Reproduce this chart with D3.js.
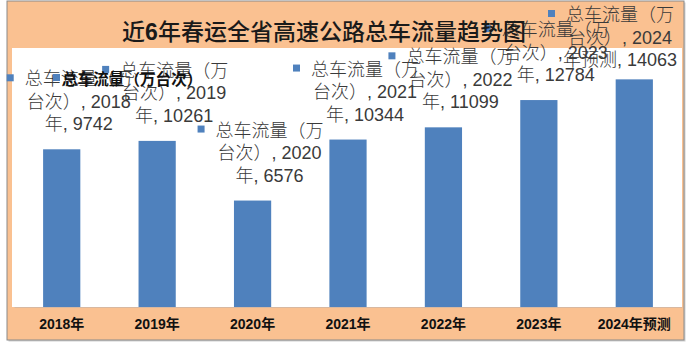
<!DOCTYPE html>
<html><head><meta charset="utf-8">
<script src="https://cdn.jsdelivr.net/npm/d3@7/dist/d3.min.js"></script>
<style>
html,body{margin:0;padding:0;background:#fff;}
svg{display:block;}
</style></head>
<body>
<svg id="chart" width="700" height="350"></svg>
<script>
const title = "近6年春运全省高速公路总车流量趋势图";
const seriesName = "总车流量（万台次）";
const categories = ["2018年","2019年","2020年","2021年","2022年","2023年","2024年预测"];
const values = [9742, 10261, 6576, 10344, 11099, 12784, 14063];
const yDomain = [0, 16000];

const svg = d3.select("#chart");
const frame = {x: 7, y: 1, w: 677, h: 339};
const plot = {x0: 12, x1: 682, y0: 48, y1: 307};
const orange = "#FAC191", blue = "#4F81BD";
const cjk = "'Noto Sans CJK SC','Noto Sans',sans-serif";
const mixed = "'Liberation Sans','Noto Sans CJK SC',sans-serif";

// frame + orange background
svg.append("rect").attr("x", frame.x + 1.5).attr("y", frame.y + 1.5).attr("width", frame.w).attr("height", frame.h)
  .attr("fill", "#d0d0d0");
svg.append("rect").attr("x", frame.x).attr("y", frame.y).attr("width", frame.w).attr("height", frame.h)
  .attr("fill", orange).attr("stroke", "#8a8a8a").attr("stroke-width", 1);
// white plot area
svg.append("rect").attr("x", plot.x0).attr("y", plot.y0).attr("width", plot.x1 - plot.x0).attr("height", plot.y1 - plot.y0)
  .attr("fill", "#ffffff");

const x = d3.scaleBand().domain(categories).range([14, 682]).paddingInner(0.61).paddingOuter(0.305);
const y = d3.scaleLinear().domain(yDomain).range([plot.y1, plot.y0]);

// bars
svg.append("g").selectAll("rect").data(values).join("rect")
  .attr("x", (d, i) => x(categories[i]))
  .attr("y", d => y(d))
  .attr("width", x.bandwidth())
  .attr("height", d => y(0) - y(d))
  .attr("fill", blue);

// category axis
const xAxis = svg.append("g").attr("transform", `translate(0,${plot.y1})`)
  .call(d3.axisBottom(x).tickSize(0).tickPadding(0));
xAxis.select(".domain").attr("stroke", "#d8b8a0").attr("stroke-width", 1);
xAxis.selectAll("text")
  .attr("dy", "0")
  .attr("y", 22)
  .attr("fill", "#111")
  .style("font-family", mixed)
  .style("font-weight", "bold")
  .style("font-size", "14px");

// data labels (3 wrapped lines, with legend key)
const labelFont = 18, lineH = 22.5;
const labels = svg.append("g");
values.forEach((v, i) => {
  const cat = categories[i];
  const lines = [
    seriesName.slice(0, 6),
    seriesName.slice(6) + ", " + cat.slice(0, 4),
    cat.slice(4) + ", " + v
  ];
  const cx = Math.min(x(cat) + x.bandwidth() / 2 + 17, 620);
  const yFirst = Math.max(y(v) - 25 - 2 * lineH, 15);
  const g = labels.append("g");
  lines.forEach((t, k) => {
    const ty = yFirst + k * lineH;
    const txt = g.append("text").attr("x", cx).attr("y", ty)
      .attr("text-anchor", "middle").attr("dominant-baseline", "central")
      .attr("fill", "#3a3a3a")
      .style("font-family", mixed).style("font-size", labelFont + "px").style("font-weight", 300)
      .text(t);
    if (k === 0) {
      const bb = txt.node().getBBox();
      g.append("rect").attr("x", bb.x - 18).attr("y", ty - 5).attr("width", 7).attr("height", 7).attr("fill", blue);
    }
  });
});

// legend
const lg = svg.append("g");
lg.append("rect").attr("x", 53).attr("y", 74).attr("width", 7).attr("height", 7).attr("fill", blue);
lg.append("text").attr("x", 62).attr("y", 78).attr("dominant-baseline", "central")
  .attr("fill", "#111")
  .style("font-family", cjk).style("font-size", "15.6px").style("font-weight", "bold")
  .text(seriesName);

// title
const tt = svg.append("text").attr("x", 324).attr("y", 32)
  .attr("text-anchor", "middle").attr("dominant-baseline", "central")
  .attr("fill", "#1a1a1a")
  .style("font-family", mixed).style("font-size", "23px").style("font-weight", 500);
const m = title.match(/^(\D*)(\d+)(.*)$/);
tt.append("tspan").text(m[1]);
tt.append("tspan").style("font-weight", "bold").text(m[2]);
tt.append("tspan").text(m[3]);
</script>
</body></html>
